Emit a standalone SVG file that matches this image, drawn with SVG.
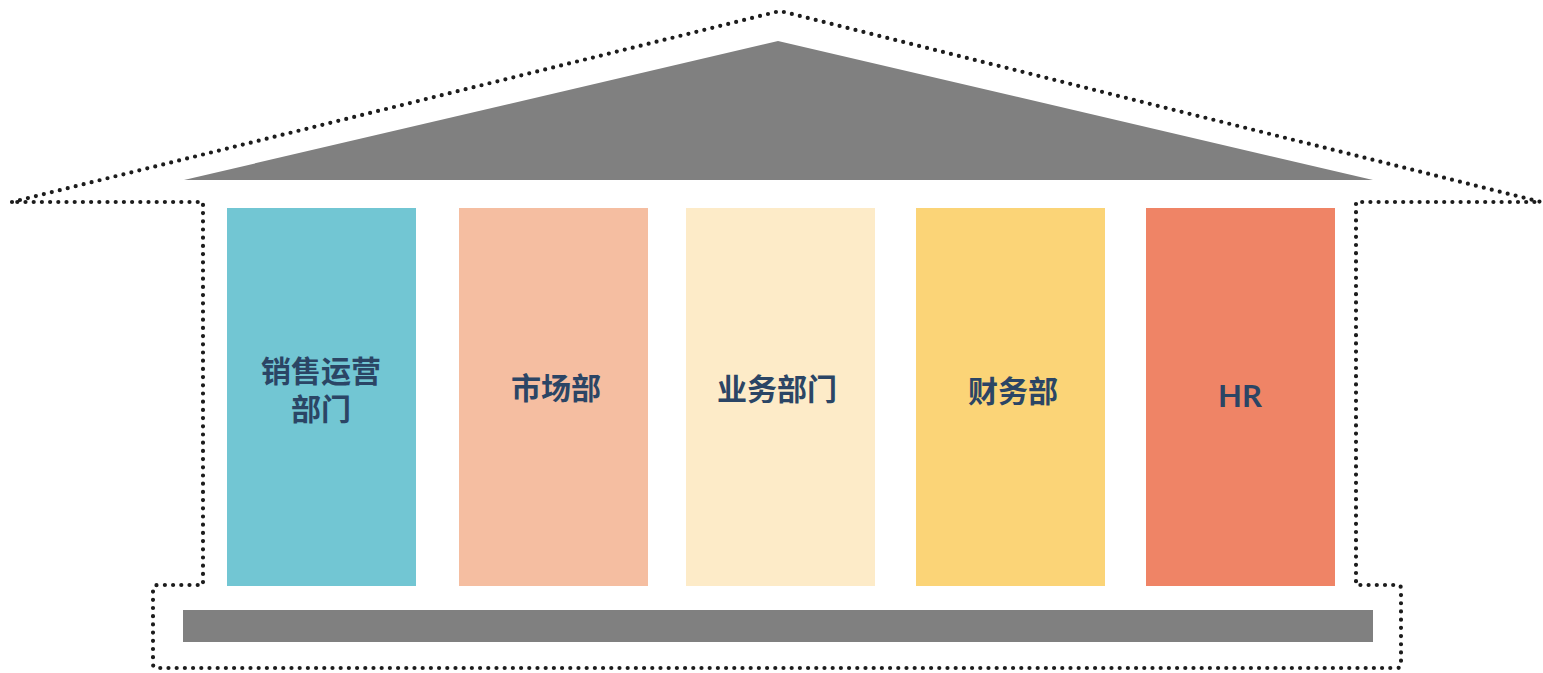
<svg xmlns="http://www.w3.org/2000/svg" width="1543" height="673" viewBox="0 0 1543 673">
<style>
.dot{fill:none;stroke:#1c1c1c;stroke-width:4.2;stroke-linecap:round;stroke-dasharray:0 8.2;stroke-linejoin:round}
.gray{fill:#808080}
.lbl{font-family:"Noto Sans CJK SC","Noto Sans",sans-serif;font-weight:bold;font-size:30px;fill:#2B4565;text-anchor:middle}
.hr{font-family:Lato,"Noto Sans",sans-serif;font-weight:bold;font-size:31px;fill:#2B4565;text-anchor:middle}
</style>
<rect width="1543" height="673" fill="#ffffff"/>
<g id="outline">
<path class="dot" d="M12,202 L780,11 L1541,202 L1356,202 L1356,585 L1398,585 Q1401,585 1401,589 L1401,664 Q1401,668 1397,668 L157,668 Q153,668 153,664 L153,590 Q153,585 158,585 L203,585 L203,202 Z"/>
</g>
<g id="roof"><polygon class="gray" points="184,180 778,41 1373,180"/></g>
<g id="base"><rect class="gray" x="183" y="610" width="1190" height="32"/></g>
<g id="col1"><rect x="227" y="208" width="189" height="378" fill="#72C6D3"/>
<text class="lbl" x="321" y="382">销售运营<tspan x="321" y="420">部门</tspan></text></g>
<g id="col2"><rect x="459" y="208" width="189" height="378" fill="#F5BEA1"/>
<text class="lbl" x="556" y="399">市场部</text></g>
<g id="col3"><rect x="686" y="208" width="189" height="378" fill="#FDEBC8"/>
<text class="lbl" x="777" y="400">业务部门</text></g>
<g id="col4"><rect x="916" y="208" width="189" height="378" fill="#FBD477"/>
<text class="lbl" x="1013" y="402">财务部</text></g>
<g id="col5"><rect x="1146" y="208" width="189" height="378" fill="#EF8466"/>
<text class="hr" x="1240" y="407">HR</text></g>
</svg>
